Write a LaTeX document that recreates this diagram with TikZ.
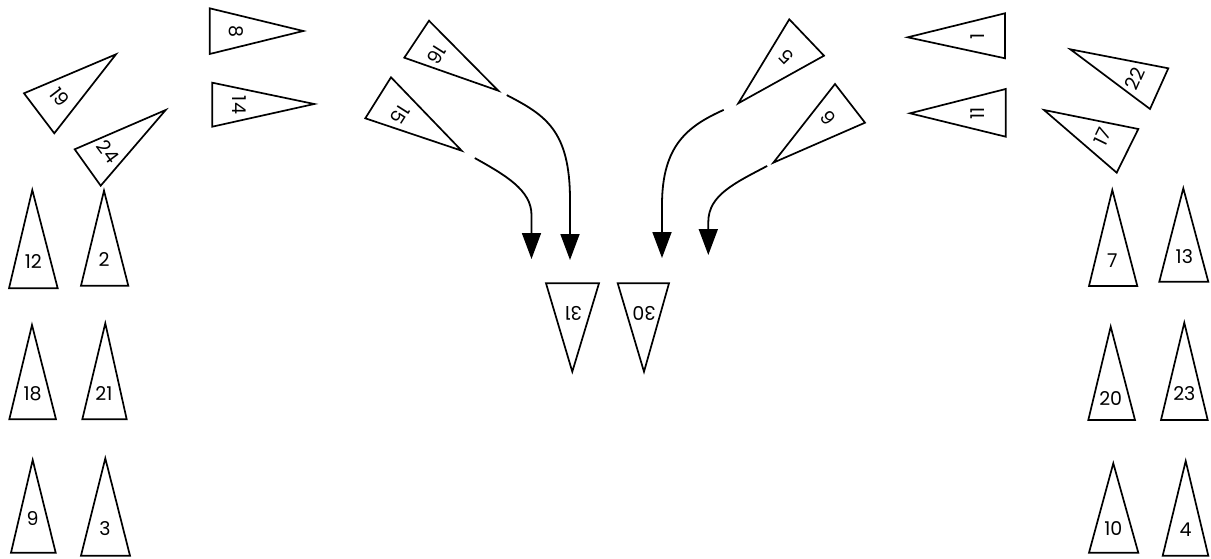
\documentclass[tikz,border=0pt]{standalone}
\usepackage{fontspec}
\setmainfont{Poppins}
\usetikzlibrary{arrows.meta}
\tikzset{
  tri/.style={draw=black, line width=1.7pt, line join=miter},
  lbl/.style={font=\fontsize{19}{19}\selectfont, inner sep=0pt},
  flow/.style={line width=1.8pt, -{Triangle[length=26pt,width=19pt]}},
}
\newcommand\mytri[7]{%
  \coordinate (#1-a) at (#2);
  \coordinate (#1-b) at (#3);
  \coordinate (#1-apex) at (#4);
  \draw[tri] (#1-a) -- (#1-b) -- (#1-apex) -- cycle;
  \node[lbl, rotate=#6] (#1) at (#5) {#7};
}
\begin{document}
\begin{tikzpicture}[x=1pt,y=-1pt]
\fill[white] (0,0) rectangle (1211,559);
\useasboundingbox (0,0) rectangle (1211,559);
% top-left group
\mytri{t8}{209.7,8.3}{209.7,54}{303.3,31}{236,31}{-90}{8}
\mytri{t14}{212.3,82.7}{212.3,126.7}{314.3,104}{239,105}{-90}{14}
\mytri{t19}{24,93.3}{54.3,133.3}{116,54.3}{60,97}{-52.5}{19}
\mytri{t24}{74.7,149.3}{100.7,185.7}{165.7,110}{108,152}{-53.6}{24}
\mytri{t16}{429,20.7}{404.3,57.7}{498.3,90.7}{436.7,55}{-122.3}{16}
\mytri{t15}{391,77.3}{365.3,118.3}{461.7,150.7}{400,115}{-122.4}{15}
% top-right group
\mytri{t5}{789.3,19.3}{824,55.7}{738.3,103.3}{786.7,57.3}{133.9}{5}
\mytri{t6}{835,84}{865,122.7}{773.3,162.7}{828.3,118.3}{127.8}{6}
\mytri{t1}{1005,13.3}{1005,58.3}{907.7,37.3}{978,36.7}{90}{1}
\mytri{t11}{1005.7,89}{1005.7,136.7}{910,113.3}{978,113.3}{90}{11}
\mytri{t22}{1168.3,68.3}{1150,109}{1070.3,49.3}{1135,78.3}{66.1}{22}
\mytri{t17}{1138.3,129}{1116.7,172.7}{1044,110}{1102.7,136.7}{63.9}{17}
% centre
\mytri{t31}{546,283.3}{599,283.3}{572.3,371.7}{573.3,313.3}{180}{31}
\mytri{t30}{617.7,283.3}{669,283.3}{644,371.7}{644,313.3}{180}{30}
% left columns
\mytri{t12}{9,288.3}{57.7,288.3}{32.3,190}{33.3,261.7}{0}{12}
\mytri{t2}{81,285.7}{128.3,285.7}{104,190.7}{104,260}{0}{2}
\mytri{t18}{9.3,419.3}{56,419.3}{32,325}{32.7,393.3}{0}{18}
\mytri{t21}{82.3,419.3}{126.7,419.3}{105.3,323.3}{104,393.3}{0}{21}
\mytri{t9}{11,552.7}{55.7,552.7}{32.7,460}{32.7,518.3}{0}{9}
\mytri{t3}{81,555.7}{130,555.7}{105.3,458.3}{105,528.3}{0}{3}
% right columns
\mytri{t7}{1089,286}{1137.3,286}{1112.3,190}{1112.3,261}{0}{7}
\mytri{t13}{1159.3,281.7}{1208.3,281.7}{1183.3,188.3}{1184.3,256.7}{0}{13}
\mytri{t20}{1088.3,420}{1135,420}{1110.7,326.7}{1110.7,398.3}{0}{20}
\mytri{t23}{1161,420}{1207.7,420}{1184.3,322.7}{1184.3,393.3}{0}{23}
\mytri{t10}{1089,552.7}{1138.3,552.7}{1113.3,463.3}{1113.3,528.3}{0}{10}
\mytri{t4}{1162.7,555.7}{1208.3,555.7}{1185.7,461}{1185.7,530}{0}{4}
% arrow ends
\coordinate (e16) at (570,260);
\coordinate (e15) at (531.5,259);
\coordinate (e5) at (662,258);
\coordinate (e6) at (708.3,255);
% arrows
\draw[flow, shorten <=9.5pt] (t16-apex) .. controls (545,115) and (570,130) .. (570,200) -- (e16);
\draw[flow, shorten <=15pt] (t15-apex) .. controls (505,175) and (531.5,190) .. (531.5,215) -- (e15);
\draw[flow, shorten <=16pt] (t5-apex) .. controls (688,126) and (662,145) .. (662,205) -- (e5);
\draw[flow, shorten <=7pt] (t6-apex) .. controls (735,183) and (708.3,195) .. (708.3,222) -- (e6);
\end{tikzpicture}
\end{document}
